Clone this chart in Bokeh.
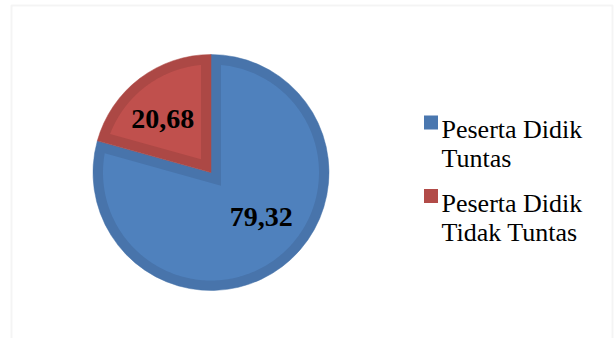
import numpy as np
from bokeh.plotting import figure
from bokeh.models import Range1d, BoxAnnotation
from bokeh.core.properties import value
from bokeh.embed import file_html
from bokeh.resources import INLINE

# ---- data ----
categories = ["Peserta Didik\nTuntas", "Peserta Didik\nTidak Tuntas"]
values = [79.32, 20.68]
value_labels = ["79,32", "20,68"]

# ---- styles ----
fill_colors = ["#4F81BD", "#C0504D"]
edge_colors = ["#4874AB", "#AC4845"]
legend_colors = ["#4A77AF", "#B24B48"]
label_nudge_x = [6, -4]
label_nudge_y = [-14, 5]   # screen px, positive = down

W, H = 616, 338
p = figure(width=W, height=H, x_range=Range1d(0, W), y_range=Range1d(0, H),
           output_backend="svg", toolbar_location=None, min_border=0,
           x_axis_type=None, y_axis_type=None)
p.grid.visible = False
p.outline_line_color = None
p.background_fill_color = "white"
p.border_fill_color = "white"

# chart-area border (open at the bottom, like the cropped reference)
p.add_layout(BoxAnnotation(left=11, right=612, top=H - 5, bottom=-20,
                           fill_alpha=0, line_color="#D9D9D9", line_width=2))

cx, cy, R, b = 210.5, H - 172, 118.0, 10.0
total = float(sum(values))
cum = np.concatenate([[0.0], np.cumsum(values)])
a_start = np.pi / 2 - cum[1:] / total * 2 * np.pi
a_end = np.pi / 2 - cum[:-1] / total * 2 * np.pi

# outer (darker) wedges
p.wedge(x=[cx] * len(values), y=[cy] * len(values), radius=R,
        start_angle=list(a_start), end_angle=list(a_end),
        fill_color=edge_colors, line_color=edge_colors, line_width=0.5)

# inner (lighter) inset faces
xs_list, ys_list = [], []
for a1, a2 in zip(a_start, a_end):
    n1 = np.array([-np.sin(a1), np.cos(a1)])
    n2 = np.array([np.sin(a2), -np.cos(a2)])
    corner = b * (n1 + n2) / (1 + n1 @ n2)
    Ri = R - b
    d = np.arctan2(b, np.sqrt(Ri ** 2 - b ** 2))
    t = np.linspace(a1 + d, a2 - d, 240)
    xs_list.append(list(np.concatenate([[corner[0]], Ri * np.cos(t)]) + cx))
    ys_list.append(list(np.concatenate([[corner[1]], Ri * np.sin(t)]) + cy))
p.patches(xs_list, ys_list, fill_color=fill_colors, line_color=None)

# value labels
mid = (a_start + a_end) / 2
rho = 0.62 * R
p.text(x=list(cx + rho * np.cos(mid)), y=list(cy + rho * np.sin(mid)),
       text=value_labels, x_offset=label_nudge_x, y_offset=label_nudge_y,
       text_font=value("Liberation Serif"), text_font_style="bold",
       text_font_size="28px", text_color="black",
       text_align="center", text_baseline="middle")

# legend (drawn manually: swatch aligned with first text line)
LEG_X = 430.5
LEG_BASE0 = H - 129
ITEM_STEP = 73.5
LINE_STEP = 29
SW = 14
sq_x, sq_y, tx, ty, tt = [], [], [], [], []
for i, cat in enumerate(categories):
    base = LEG_BASE0 - i * ITEM_STEP
    sq_x.append(LEG_X)
    sq_y.append(base + SW / 2)
    for j, line in enumerate(cat.split("\n")):
        tx.append(LEG_X + 10.5)
        ty.append(base - j * LINE_STEP)
        tt.append(line)
p.rect(x=sq_x, y=sq_y, width=SW, height=SW, width_units="screen",
       height_units="screen", fill_color=legend_colors, line_color=None)
p.text(x=tx, y=ty, text=tt, text_font=value("Liberation Serif"),
       text_font_size="26px", text_color="black",
       text_align="left", text_baseline="alphabetic")

open("out.html", "w").write(file_html(p, INLINE))
